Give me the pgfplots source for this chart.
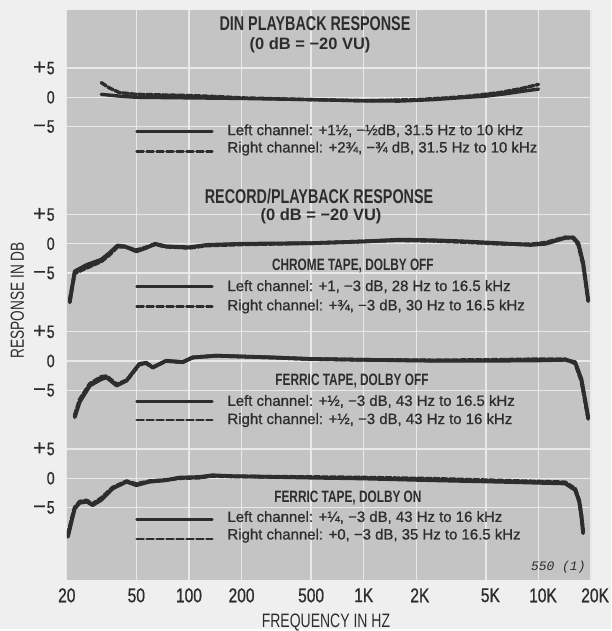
\documentclass[border=0pt]{standalone}
\usepackage{pgfplots}
\pgfplotsset{compat=1.18}
\usepackage{pgfplotstable}
\usepackage{fontspec}
\setmainfont{Liberation Sans}
\newfontfamily\cond[FakeStretch=0.72]{Liberation Sans}
\newfontfamily\tickf[FakeStretch=0.78,FakeBold=0.8]{Liberation Sans}
\newfontfamily\legf[FakeBold=0.8]{Liberation Sans}
\newfontfamily\signf[FakeBold=0.8]{Liberation Sans}
\newfontfamily\monof{Liberation Mono}
\definecolor{pagebg}{RGB}{239,239,239}
\definecolor{plotgray}{RGB}{196,196,196}
\definecolor{gridc}{RGB}{233,233,233}
\definecolor{ink}{RGB}{45,45,45}
\newcommand{\sg}[1]{{\signf\fontsize{22}{22}\selectfont #1}}

% DIN playback (offset 0)
\pgfplotstableread{
f db
31.5 0.5
40 0.2
50 0.0
100 -0.1
200 -0.2
500 -0.4
1000 -0.6
1600 -0.65
2500 -0.4
3500 -0.1
5000 0.2
6500 0.6
8000 1.0
10000 1.4
}\dinL
\pgfplotstableread{
f db
31.5 2.5
35 1.6
40 0.8
50 0.5
100 0.3
150 0.1
200 -0.1
500 -0.4
1000 -0.6
2000 -0.4
3000 -0.1
4000 0.2
6000 0.8
8000 1.5
10000 2.2
}\dinR
% Chrome tape, Dolby off (offset -25)
\pgfplotstableread{
f db
20.8 -10
22.2 -4.7
26 -3.6
31.5 -2.7
35 -1.6
39 -0.3
43 -0.45
50 -1.3
57 -0.7
64 0
74 -0.45
100 -0.6
126 -0.2
200 0
500 0.1
1000 0.4
1600 0.7
2500 0.6
3800 0.4
6000 0.1
9000 -0.2
11000 0
14200 1.0
15800 1.1
16900 0.1
18000 -3.2
19250 -9.8
}\crL
\pgfplotstableread{
f db
20.8 -9.5
22.2 -5.0
26 -4.1
31.5 -3.0
35 -1.9
39 -0.5
43 -0.5
50 -1.1
57 -0.6
64 -0.1
74 -0.5
100 -0.7
126 -0.3
200 -0.1
500 0.1
1000 0.4
1600 0.6
2500 0.5
3800 0.3
6000 0.0
9000 -0.1
11000 0.2
14200 1.1
15800 1.0
16900 -0.2
18000 -3.6
19250 -9.5
}\crR
% Ferric tape, Dolby off (offset -45)
\pgfplotstableread{
f db
22.2 -9.6
23.7 -7
27.1 -4.2
31.5 -3.1
33.8 -2.8
38.6 -4.2
44 -3.35
52 -0.5
57 -0.3
62 -1.1
74 0.05
92 -0.2
105 0.6
143 0.9
300 0.6
487 0.35
1000 0.2
2450 0.05
5900 0.05
10000 0.1
14200 0.2
16200 -0.2
17600 -3.1
19250 -9.6
}\feL
\pgfplotstableread{
f db
22.2 -9.3
23.7 -6.6
27.1 -3.9
31.5 -2.7
33.8 -2.6
38.6 -4.0
44 -3.3
52 -0.6
57 -0.4
62 -1.1
74 0
92 -0.2
105 0.6
143 0.9
300 0.6
487 0.35
1000 0.2
2450 0.1
5900 0.2
10000 0.3
14200 0.3
16200 -0.4
17600 -3.4
19250 -9.9
}\feR
% Ferric tape, Dolby on (offset -65)
\pgfplotstableread{
f db
20.3 -10
21.4 -7.1
22.2 -5.2
23.7 -4.2
26 -4.0
28.1 -4.6
31.5 -3.7
36.6 -1.75
44 -0.6
50 -1.2
59.5 -0.6
74 -0.35
88 0.1
115 0.2
136 0.5
177 0.35
487 0.1
1000 -0.05
2450 -0.35
5900 -0.6
14200 -0.9
16200 -2
17100 -4
17600 -6.5
18000 -9.4
}\fdL
\pgfplotstableread{
f db
20.3 -9.6
21.4 -6.8
22.2 -5.0
23.7 -4.0
26 -3.8
28.1 -4.4
31.5 -3.4
36.6 -1.6
44 -0.5
50 -1.0
59.5 -0.5
74 -0.3
88 0
115 0.1
136 0.4
177 0.3
487 0.2
1000 0.1
2450 -0.1
5900 -0.4
14200 -0.7
16200 -1.8
17100 -3.8
17600 -6.4
18000 -9.0
}\fdR

\begin{document}
\begin{tikzpicture}
\fill[pagebg] (-67pt,-49pt) rectangle (546pt,582pt);
\begin{axis}[
  at={(0pt,0pt)}, anchor=south west,
  scale only axis, width=526pt, height=572pt,
  xmode=log, xmin=20, xmax=20000, ymin=-82.4, ymax=14.9,
  axis background/.style={fill=plotgray},
  axis line style={draw=none},
  major tick length=0pt, minor tick length=0pt,
  minor xtick={}, minor ytick={},
  xtick={20,50,100,200,500,1000,2000,5000,10000,20000},
  xticklabels={20,50,100,200,500,1K,{\hspace{7pt}2K},{\hspace{9pt}5K},{\hspace{9pt}10K},{\hspace{8pt}20K}},
  ytick={-70,-65,-60,-50,-45,-40,-30,-25,-20,-5,0,5},
  yticklabels={{\sg{−}\kern1pt5},0,{\sg{+}\kern1pt5},{\sg{−}\kern1pt5},0,{\sg{+}\kern1pt5},{\sg{−}\kern1pt5},0,{\sg{+}\kern1pt5},{\sg{−}\kern1pt5},0,{\sg{+}\kern1pt5}},
  xmajorgrids, ymajorgrids,
  major grid style={gridc, line width=1.3pt},
  xticklabel style={font=\tickf\fontsize{20}{20}\selectfont, text=ink, inner sep=0pt, anchor=north, yshift=-8pt},
  yticklabel style={font=\tickf\fontsize{18}{18}\selectfont, text=ink, inner sep=0pt, anchor=east, xshift=-12pt},
  xlabel={FREQUENCY IN HZ},
  ylabel={RESPONSE IN DB},
  xlabel style={at={(rel axis cs:0.5,0)}, anchor=north, yshift=-33.5pt, xshift=-3pt, font=\cond\fontsize{19.5}{19.5}\selectfont, text=ink, inner sep=0pt},
  ylabel style={at={(rel axis cs:0,0.491)}, anchor=center, yshift=49.5pt, font=\cond\fontsize{19}{19}\selectfont, text=ink, inner sep=0pt},
  every axis plot/.append style={ink, line join=round, line cap=round},
]
% legend sample lines
\addplot[line width=2.6pt, forget plot] coordinates {(50.2,-5.87) (136,-5.87)};
\addplot[line width=2.6pt, dash pattern=on 7pt off 3pt, forget plot] coordinates {(50.2,-9.27) (136,-9.27)};
\addplot[line width=2.6pt, forget plot] coordinates {(50.2,-32.3) (136,-32.3)};
\addplot[line width=2.6pt, dash pattern=on 7pt off 3pt, forget plot] coordinates {(50.2,-35.7) (136,-35.7)};
\addplot[line width=2.6pt, forget plot] coordinates {(50.2,-51.9) (136,-51.9)};
\addplot[line width=2.6pt, dash pattern=on 7pt off 3pt, forget plot] coordinates {(50.2,-55.1) (136,-55.1)};
\addplot[line width=2.6pt, forget plot] coordinates {(50.2,-72.0) (136,-72.0)};
\addplot[line width=2.6pt, dash pattern=on 7pt off 3pt, forget plot] coordinates {(50.2,-75.4) (136,-75.4)};

% curves
\addplot[line width=3.4pt, dash pattern=on 6pt off 2pt] table[x=f,y=db] {\dinR};
\addplot[line width=3.4pt] table[x=f,y=db] {\dinL};
\addplot[line width=3.8pt, dash pattern=on 6pt off 2pt] table[x=f,y expr=\thisrow{db}-25] {\crR};
\addplot[line width=3.8pt] table[x=f,y expr=\thisrow{db}-25] {\crL};
\addplot[line width=3.8pt, dash pattern=on 6pt off 2pt] table[x=f,y expr=\thisrow{db}-45] {\feR};
\addplot[line width=3.8pt] table[x=f,y expr=\thisrow{db}-45] {\feL};
\addplot[line width=3.8pt, dash pattern=on 6pt off 2pt] table[x=f,y expr=\thisrow{db}-65] {\fdR};
\addplot[line width=3.8pt] table[x=f,y expr=\thisrow{db}-65] {\fdL};

% titles
\node[font=\cond\bfseries\fontsize{20}{20}\selectfont, text=ink, inner sep=0pt] at (axis cs:526,12.5) {DIN PLAYBACK RESPONSE};
\node[font=\bfseries\fontsize{16.5}{17}\selectfont, text=ink, inner sep=0pt] at (axis cs:493,8.9) {(0 dB = −20 VU)};
\node[font=\cond\bfseries\fontsize{20}{20}\selectfont, text=ink, inner sep=0pt] at (axis cs:555,-16.9) {RECORD/PLAYBACK RESPONSE};
\node[font=\bfseries\fontsize{16.5}{17}\selectfont, text=ink, inner sep=0pt] at (axis cs:570,-20.3) {(0 dB = −20 VU)};
\node[font=\cond\bfseries\fontsize{16.5}{17}\selectfont, text=ink, inner sep=0pt] at (axis cs:867,-28.8) {CHROME TAPE, DOLBY OFF};
\node[font=\cond\bfseries\fontsize{16.5}{17}\selectfont, text=ink, inner sep=0pt] at (axis cs:857,-48.4) {FERRIC TAPE, DOLBY OFF};
\node[font=\cond\bfseries\fontsize{16.5}{17}\selectfont, text=ink, inner sep=0pt] at (axis cs:812,-68.4) {FERRIC TAPE, DOLBY ON};

% legend texts
\begin{scope}[every node/.style={font=\legf\fontsize{15}{15}\selectfont, text=ink, inner sep=0pt, anchor=west}]
\node at (axis cs:165.7,-5.7) {Left channel: +1½, −½dB, 31.5 Hz to 10 kHz};
\node at (axis cs:165.7,-8.76) {Right channel: +2¾, −¾ dB, 31.5 Hz to 10 kHz};
\node at (axis cs:165.7,-32.3) {Left channel: +1, −3 dB, 28 Hz to 16.5 kHz};
\node at (axis cs:165.7,-35.7) {Right channel: +¾, −3 dB, 30 Hz to 16.5 kHz};
\node at (axis cs:165.7,-51.9) {Left channel: +½, −3 dB, 43 Hz to 16.5 kHz};
\node at (axis cs:165.7,-55.1) {Right channel: +½, −3 dB, 43 Hz to 16 kHz};
\node at (axis cs:165.7,-71.7) {Left channel: +¼, −3 dB, 43 Hz to 16 kHz};
\node at (axis cs:165.7,-74.8) {Right channel: +0, −3 dB, 35 Hz to 16.5 kHz};
\end{scope}
\node[font=\monof\itshape\fontsize{13}{13}\selectfont, text=ink, inner sep=0pt] at (axis cs:12980,-80.2) {550 (1)};
\end{axis}
\end{tikzpicture}
\end{document}
